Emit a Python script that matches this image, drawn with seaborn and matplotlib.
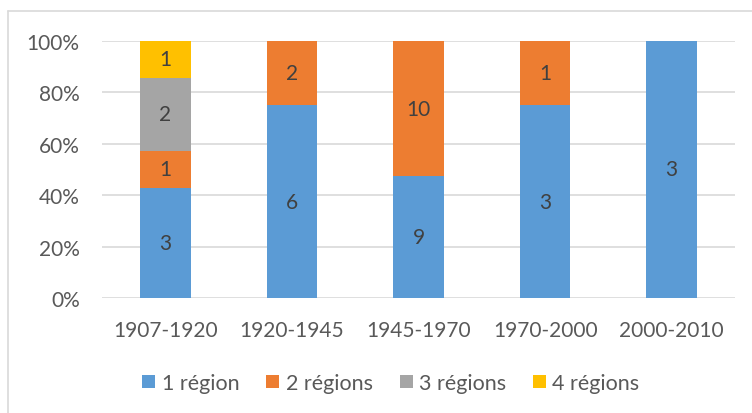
import numpy as np
import pandas as pd
import matplotlib
matplotlib.use("Agg")
import matplotlib.pyplot as plt
from matplotlib.patches import Patch
import seaborn as sns

periods = ["1907-1920", "1920-1945", "1945-1970", "1970-2000", "2000-2010"]
series_names = ["1 région", "2 régions", "3 régions", "4 régions"]
one_region = [3, 6, 9, 3, 3]
two_regions = [1, 2, 10, 1, 0]
three_regions = [2, 0, 0, 0, 0]
four_regions = [1, 0, 0, 0, 0]
colors = ["#5B9BD5", "#ED7D31", "#A5A5A5", "#FFC000"]
y_ticks = [0, 20, 40, 60, 80, 100]

sns.set_theme(style="white")
plt.rcParams["font.family"] = ["Lato", "DejaVu Sans"]

counts = np.array([one_region, two_regions, three_regions, four_regions], dtype=float)
totals = counts.sum(axis=0)
shares = counts / totals * 100
tops = np.cumsum(shares, axis=0)
bottoms = tops - shares

fig = plt.figure(figsize=(7.52, 4.14), dpi=100)
ax = fig.add_axes([0.1356, 0.2778, 0.8418, 0.6208])

# stacked columns: draw the cumulative heights from the top series down
for i in range(len(series_names) - 1, -1, -1):
    df = pd.DataFrame({"period": periods, "value": tops[i]})
    sns.barplot(data=df, x="period", y="value", color=colors[i], width=0.4,
                saturation=1, ax=ax, edgecolor="none", linewidth=0, zorder=2)

# segment labels
for i in range(len(series_names)):
    for j in range(len(periods)):
        if counts[i, j] > 0:
            ax.text(j, bottoms[i, j] + shares[i, j] / 2, f"{int(counts[i, j])}",
                    ha="center", va="center", fontsize=15, color="#404040", zorder=3)

ax.set_ylim(0, 100)
ax.set_xlim(-0.5, len(periods) - 0.5)
ax.set_yticks(y_ticks)
ax.set_yticklabels([f"{t}%" for t in y_ticks])
ax.yaxis.grid(True, color="#D9D9D9", linewidth=1.2, zorder=0)
ax.set_axisbelow(True)
for s in ax.spines.values():
    s.set_visible(False)
ax.set_xlabel("")
ax.set_ylabel("")
ax.tick_params(axis="both", length=0, labelsize=15, labelcolor="#595959")
ax.tick_params(axis="x", pad=16)
ax.tick_params(axis="y", pad=16)

handles = [Patch(facecolor=c, edgecolor="none") for c in colors]
fig.legend(handles, series_names, loc="center", bbox_to_anchor=(391 / 752, 1 - 384 / 414),
           ncol=4, frameon=False, fontsize=15.5, labelcolor="#595959",
           handlelength=0.6, handleheight=0.6, handletextpad=0.3, columnspacing=1.25)

# chart frame
fig.add_artist(plt.Line2D([8 / 752, 1], [1 - 12 / 414, 1 - 12 / 414],
                          color="#D9D9D9", linewidth=1.2, transform=fig.transFigure))
fig.add_artist(plt.Line2D([8 / 752, 8 / 752], [0, 1 - 12 / 414],
                          color="#D9D9D9", linewidth=1.2, transform=fig.transFigure))

fig.savefig("out.png", dpi=100, facecolor="white")
